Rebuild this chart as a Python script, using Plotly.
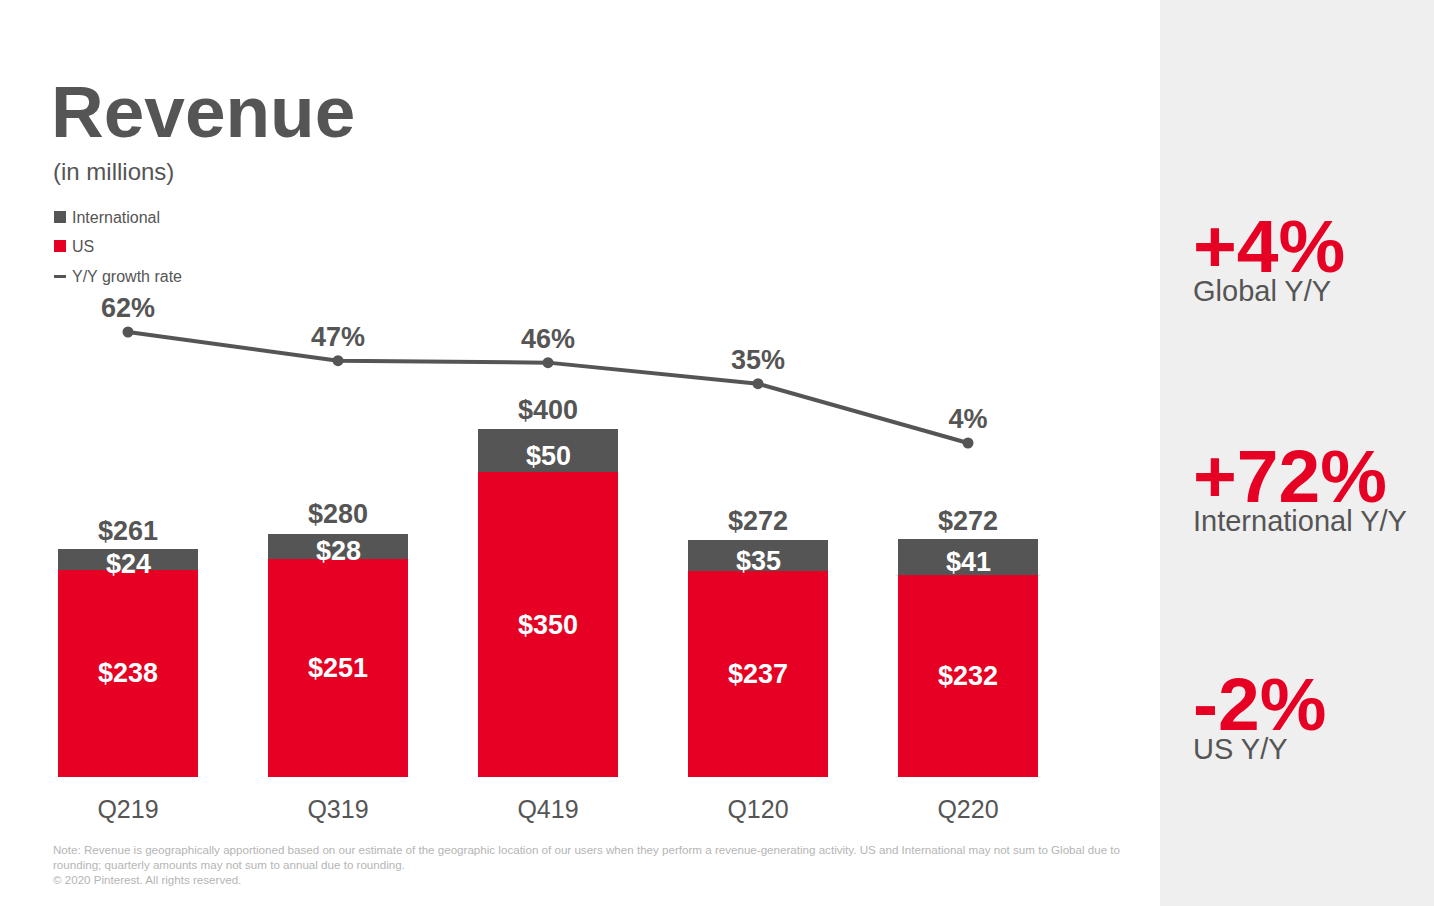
import plotly.graph_objects as go

# ─── DATOS ───
quarters = ["Q219", "Q319", "Q419", "Q120", "Q220"]
us_rev = [238, 251, 350, 237, 232]
intl_rev = [24, 28, 50, 35, 41]
total_rev = [261, 280, 400, 272, 272]
growth = [62, 47, 46, 35, 4]

side_values = ["+4%", "+72%", "-2%"]
side_labels = ["Global Y/Y", "International Y/Y", "US Y/Y"]

RED = "#e60023"
GRAY = "#555555"
FONT = "Liberation Sans, Arial, sans-serif"

W, H = 1434, 906

def py(px):  # pixel (desde arriba) -> coordenada paper
    return 1 - px / H

def pxx(px):
    return px / W

fig = go.Figure()

fig.add_trace(go.Bar(
    x=quarters, y=us_rev, name="US", marker_color=RED, marker_line_width=0,
    text=[f"${v}" for v in us_rev], textposition="inside", insidetextanchor="middle",
    textfont=dict(family=FONT, size=27, color="white", weight="bold"),
    width=0.667,
))
fig.add_trace(go.Bar(
    x=quarters, y=intl_rev, name="International", marker_color=GRAY, marker_line_width=0,
    width=0.667,
))
fig.add_trace(go.Scatter(
    x=quarters, y=growth, yaxis="y2", mode="lines+markers+text",
    line=dict(color=GRAY, width=4), marker=dict(color=GRAY, size=11),
    text=[f"{g}%" for g in growth], textposition="top center",
    textfont=dict(family=FONT, size=27, color=GRAY, weight="bold"),
    cliponaxis=False,
))

annotations = []
# totales sobre las barras
for q, t in zip(quarters, total_rev):
    annotations.append(dict(x=q, y=t, xref="x", yref="y", text=f"${t}", showarrow=False,
                            yanchor="bottom", yshift=2,
                            font=dict(family=FONT, size=27, color=GRAY, weight="bold")))
# internacional dentro de la barra gris
for q, u, i in zip(quarters, us_rev, intl_rev):
    annotations.append(dict(x=q, y=u + i / 2, xref="x", yref="y", text=f"${i}", showarrow=False,
                            yshift=-5,
                            font=dict(family=FONT, size=27, color="white", weight="bold")))

# titulo
annotations.append(dict(x=pxx(49), y=py(154), xref="paper", yref="paper", text="<b>Revenue</b>",
                        showarrow=False, xanchor="left", yanchor="bottom",
                        font=dict(family=FONT, size=73, color=GRAY)))
annotations.append(dict(x=pxx(51), y=py(172), xref="paper", yref="paper", text="(in millions)",
                        showarrow=False, xanchor="left", yanchor="middle",
                        font=dict(family=FONT, size=24, color=GRAY)))

# leyenda manual
legend_items = [("International", 217), ("US", 246), ("Y/Y growth rate", 276)]
for name, yy in legend_items:
    annotations.append(dict(x=pxx(70), y=py(yy), xref="paper", yref="paper", text=name,
                            showarrow=False, xanchor="left", yanchor="middle",
                            font=dict(family=FONT, size=16, color=GRAY)))

# panel derecho (valor grande + etiqueta en un solo bloque)
side_top = [202, 432, 660]
for val, lab, yt in zip(side_values, side_labels, side_top):
    txt = (f"<span style='font-size:75px;color:{RED};font-weight:bold'>{val}</span><br>"
           f"<span style='font-size:29px;color:{GRAY}'>{lab}</span>")
    annotations.append(dict(x=pxx(1191), y=py(yt), xref="paper", yref="paper", text=txt,
                            showarrow=False, xanchor="left", yanchor="top", align="left",
                            font=dict(family=FONT, size=22, color=GRAY)))

# nota al pie
note = ("Note: Revenue is geographically apportioned based on our estimate of the geographic location of our users "
        "when they perform a revenue-generating activity. US and International may not sum to Global due to<br>"
        "rounding; quarterly amounts may not sum to annual due to rounding.<br>"
        "© 2020 Pinterest. All rights reserved.")
annotations.append(dict(x=pxx(51), y=py(841), xref="paper", yref="paper", text=note,
                        showarrow=False, xanchor="left", yanchor="top", align="left",
                        font=dict(family=FONT, size=11.6, color="#b5b5b5")))

shapes = [
    dict(type="rect", xref="paper", yref="paper", x0=pxx(1160), x1=1, y0=0, y1=1,
         fillcolor="#efefef", line_width=0, layer="below"),
    dict(type="rect", xref="paper", yref="paper", x0=pxx(54), x1=pxx(66), y0=py(223), y1=py(211),
         fillcolor=GRAY, line_width=0),
    dict(type="rect", xref="paper", yref="paper", x0=pxx(54), x1=pxx(66), y0=py(252), y1=py(240),
         fillcolor=RED, line_width=0),
    dict(type="rect", xref="paper", yref="paper", x0=pxx(54), x1=pxx(66), y0=py(278), y1=py(275),
         fillcolor=GRAY, line_width=0),
]

fig.update_layout(
    width=W, height=H, barmode="stack", showlegend=False,
    margin=dict(l=0, r=0, t=0, b=0),
    paper_bgcolor="white", plot_bgcolor="rgba(0,0,0,0)",
    xaxis=dict(domain=[pxx(23), pxx(1073)], showgrid=False, zeroline=False, showline=False,
               ticks="", tickfont=dict(family=FONT, size=25, color=GRAY), ticklabelstandoff=15),
    yaxis=dict(domain=[py(777), py(200)], range=[0, 663.2], visible=False),
    yaxis2=dict(overlaying="y", range=[-170.5, 130.97], visible=False),
    annotations=annotations, shapes=shapes,
)

# sin margen del body para que la figura ocupe la ventana completa
fig.write_html("out.html", config={"displayModeBar": False},
               post_script="document.body.style.margin='0px';")
